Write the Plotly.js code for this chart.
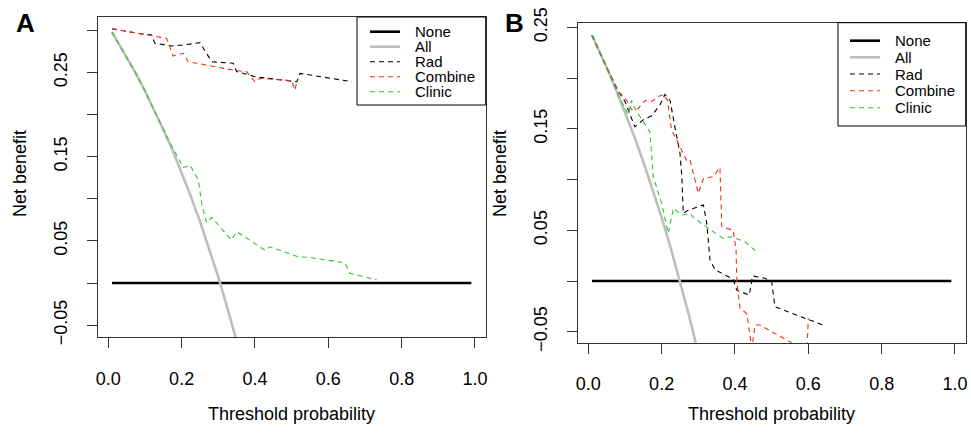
<!DOCTYPE html>
<html><head><meta charset="utf-8">
<script src="https://cdn.plot.ly/plotly-3.0.1.min.js"></script>
<style>html,body{margin:0;padding:0;background:#fff}#chart{width:971px;height:434px}</style>
</head><body><div id="chart"></div>
<script>
// ---------- data ----------
const seriesNames = ["None", "All", "Rad", "Combine", "Clinic"];
const seriesColors = ["#000000", "#bebebe", "#000000", "#f2301c", "#2ec42e"];

// Panel A
const aNoneX = [0.01, 0.99];
const aNoneY = [0, 0];
const aAllX = [0.01, 0.025, 0.05, 0.075, 0.10, 0.125, 0.15, 0.175, 0.20, 0.225, 0.25, 0.275, 0.30, 0.325, 0.35];
const aAllY = [0.298, 0.287, 0.268, 0.249, 0.228, 0.206, 0.182, 0.158, 0.131, 0.103, 0.073, 0.041, 0.007, -0.030, -0.069];
const aRadX = [0.01, 0.087, 0.118, 0.127, 0.173, 0.205, 0.25, 0.273, 0.282, 0.341, 0.350, 0.377, 0.40, 0.514, 0.523, 0.665];
const aRadY = [0.302, 0.296, 0.2945, 0.2847, 0.2815, 0.2827, 0.2854, 0.2688, 0.2628, 0.2609, 0.251, 0.248, 0.245, 0.239, 0.249, 0.239];
const aCombX = [0.01, 0.146, 0.159, 0.177, 0.205, 0.218, 0.350, 0.377, 0.40, 0.414, 0.50, 0.509, 0.514];
const aCombY = [0.302, 0.292, 0.2906, 0.2696, 0.2728, 0.2628, 0.2521, 0.251, 0.239, 0.2431, 0.2403, 0.229, 0.239];
const aClinX = [0.01, 0.025, 0.05, 0.075, 0.10, 0.125, 0.15, 0.164, 0.205, 0.223, 0.246, 0.255, 0.268, 0.282, 0.336, 0.350, 0.427, 0.441, 0.518, 0.545, 0.645, 0.659, 0.732];
const aClinY = [0.298, 0.287, 0.268, 0.249, 0.228, 0.206, 0.182, 0.170, 0.137, 0.140, 0.122, 0.093, 0.0716, 0.078, 0.051, 0.061, 0.039, 0.043, 0.031, 0.0305, 0.024, 0.0115, 0.0036];

// Panel B
const bNoneX = [0.01, 0.99];
const bNoneY = [0, 0];
const bAllX = [0.01, 0.025, 0.05, 0.075, 0.10, 0.125, 0.15, 0.175, 0.20, 0.225, 0.25, 0.275, 0.30];
const bAllY = [0.2424, 0.2308, 0.2105, 0.1892, 0.1667, 0.1429, 0.1176, 0.0909, 0.0625, 0.0323, 0.0, -0.0345, -0.0714];
const bRadX = [0.01, 0.05, 0.082, 0.10, 0.127, 0.15, 0.173, 0.196, 0.209, 0.223, 0.236, 0.25, 0.255, 0.259, 0.273, 0.314, 0.323, 0.332, 0.346, 0.395, 0.405, 0.439, 0.448, 0.482, 0.500, 0.509, 0.604, 0.641];
const bRadY = [0.2424, 0.2105, 0.187, 0.177, 0.152, 0.159, 0.163, 0.174, 0.184, 0.178, 0.152, 0.126, 0.103, 0.0667, 0.070, 0.075, 0.057, 0.0206, 0.011, 0.0017, -0.009, -0.0138, 0.005, 0.0027, -0.0007, -0.0253, -0.0385, -0.0434];
const bCombX = [0.01, 0.05, 0.082, 0.105, 0.118, 0.136, 0.155, 0.173, 0.191, 0.205, 0.216, 0.227, 0.245, 0.268, 0.277, 0.30, 0.314, 0.341, 0.359, 0.364, 0.395, 0.403, 0.405, 0.409, 0.414, 0.432, 0.446, 0.455, 0.468, 0.545, 0.596, 0.60];
const bCombY = [0.2424, 0.2105, 0.187, 0.178, 0.169, 0.170, 0.178, 0.177, 0.182, 0.184, 0.178, 0.149, 0.136, 0.119, 0.120, 0.0865, 0.101, 0.103, 0.112, 0.0536, 0.050, 0.0306, -0.0007, -0.0155, -0.027, -0.032, -0.066, -0.0434, -0.0434, -0.059, -0.070, -0.0368];
const bClinX = [0.01, 0.025, 0.05, 0.075, 0.082, 0.109, 0.118, 0.127, 0.15, 0.168, 0.177, 0.20, 0.218, 0.232, 0.255, 0.277, 0.286, 0.327, 0.368, 0.391, 0.427, 0.455];
const bClinY = [0.2424, 0.2308, 0.2105, 0.1892, 0.183, 0.164, 0.178, 0.170, 0.157, 0.147, 0.103, 0.0766, 0.047, 0.0717, 0.065, 0.0667, 0.063, 0.052, 0.042, 0.0437, 0.0388, 0.030];

const xTickVals = [0, 0.2, 0.4, 0.6, 0.8, 1.0];
const xTickText = ["0.0", "0.2", "0.4", "0.6", "0.8", "1.0"];
const aYTickVals = [-0.05, 0, 0.05, 0.10, 0.15, 0.20, 0.25, 0.30];
const aYTickText = ["\u22120.05", "", "0.05", "", "0.15", "", "0.25", ""];
const bYTickVals = [-0.05, 0, 0.05, 0.10, 0.15, 0.20, 0.25];
const bYTickText = ["\u22120.05", "", "0.05", "", "0.15", "", "0.25"];
const xTitle = "Threshold probability";
const yTitle = "Net benefit";
const panelLabels = ["A", "B"];

// ---------- drawing ----------
const W = 971, H = 434;
const FONT = "Liberation Sans, Arial, Helvetica, sans-serif";
const px = v => v / W;
const py = v => 1 - v / H;
const styles = [
  {width: 2.6, dash: "solid"},
  {width: 2.6, dash: "solid"},
  {width: 1.1, dash: "5px,4px"},
  {width: 1.1, dash: "5px,4px"},
  {width: 1.1, dash: "5px,4px"}
];

function mk(xs, ys, i, xa, ya) {
  return {x: xs, y: ys, type: "scatter", mode: "lines", name: seriesNames[i],
    xaxis: xa, yaxis: ya, showlegend: false, hoverinfo: "skip", cliponaxis: true,
    line: {color: seriesColors[i], width: styles[i].width, dash: styles[i].dash}};
}

const traces = [
  mk(aNoneX, aNoneY, 0, "x", "y"), mk(aAllX, aAllY, 1, "x", "y"),
  mk(aRadX, aRadY, 2, "x", "y"), mk(aCombX, aCombY, 3, "x", "y"), mk(aClinX, aClinY, 4, "x", "y"),
  mk(bNoneX, bNoneY, 0, "x2", "y2"), mk(bAllX, bAllY, 1, "x2", "y2"),
  mk(bRadX, bRadY, 2, "x2", "y2"), mk(bCombX, bCombY, 3, "x2", "y2"), mk(bClinX, bClinY, 4, "x2", "y2")
];

// plot boxes (pixels)
const boxA = {l: 97.6, r: 485.7, t: 17, b: 337};
const boxB = {l: 577.6, r: 965.7, t: 22.7, b: 342.7};

function xax(box, anchor) {
  return {domain: [px(box.l), px(box.r)], range: [-0.0292, 1.0292], anchor: anchor,
    tickvals: xTickVals, ticktext: xTickText, ticks: "outside", ticklen: 10, tickwidth: 1, tickcolor: "#333",
    showline: true, mirror: true, linecolor: "#333", linewidth: 1, showgrid: false, zeroline: false,
    ticklabelstandoff: 15, tickfont: {family: FONT, size: 18, color: "#000"}, fixedrange: true};
}
function yax(box, anchor, range, tv, tt) {
  return {domain: [py(box.b), py(box.t)], range: range, anchor: anchor,
    tickvals: tv, ticktext: tt, ticks: "outside", ticklen: 10, tickwidth: 1, tickcolor: "#333", tickangle: -90,
    showline: true, mirror: true, linecolor: "#333", linewidth: 1, showgrid: false, zeroline: false,
    ticklabelstandoff: 12, tickfont: {family: FONT, size: 18, color: "#000"}, fixedrange: true};
}

const shapes = [], annotations = [];

function addLegend(lg) {
  shapes.push({type: "rect", xref: "paper", yref: "paper", layer: "above",
    x0: px(lg.l), x1: px(lg.r), y0: py(lg.b), y1: py(lg.t),
    line: {color: "#000", width: 1}, fillcolor: "#fff"});
  seriesNames.forEach((n, i) => {
    const yy = lg.rows[i];
    shapes.push({type: "line", xref: "paper", yref: "paper", layer: "above",
      x0: px(lg.lx0), x1: px(lg.lx1), y0: py(yy), y1: py(yy),
      line: {color: seriesColors[i], width: styles[i].width, dash: styles[i].dash}});
    annotations.push({xref: "paper", yref: "paper", x: px(lg.tx), y: py(yy), text: n,
      showarrow: false, xanchor: "left", yanchor: "middle", borderpad: 0,
      font: {family: FONT, size: 15, color: "#000"}});
  });
}
addLegend({l: 357, r: 485.7, t: 17, b: 105, lx0: 370, lx1: 400, tx: 414, rows: [31.7, 46.7, 61.7, 76.7, 91.7]});
addLegend({l: 838, r: 965.7, t: 22.7, b: 126, lx0: 850, lx1: 880, tx: 894, rows: [40.7, 57.3, 74, 90.7, 107.7]});

function addTitles(box, ylabX) {
  annotations.push({xref: "paper", yref: "paper", x: px((box.l + box.r) / 2), y: py(414), text: xTitle,
    showarrow: false, xanchor: "center", yanchor: "middle", font: {family: FONT, size: 18, color: "#000"}});
  annotations.push({xref: "paper", yref: "paper", x: px(ylabX), y: py(174), text: yTitle, textangle: -90,
    showarrow: false, xanchor: "center", yanchor: "middle", font: {family: FONT, size: 18, color: "#000"}});
}
addTitles(boxA, 20);
addTitles(boxB, 500);
annotations.push({xref: "paper", yref: "paper", x: px(25), y: py(23), text: "<b>" + panelLabels[0] + "</b>",
  showarrow: false, xanchor: "center", yanchor: "middle", font: {family: FONT, size: 26, color: "#000"}});
annotations.push({xref: "paper", yref: "paper", x: px(514), y: py(23), text: "<b>" + panelLabels[1] + "</b>",
  showarrow: false, xanchor: "center", yanchor: "middle", font: {family: FONT, size: 26, color: "#000"}});

const layout = {
  width: W, height: H, margin: {l: 0, r: 0, t: 0, b: 0},
  paper_bgcolor: "#fff", plot_bgcolor: "#fff", showlegend: false,
  font: {family: FONT, color: "#000"},
  xaxis: xax(boxA, "y"),
  yaxis: yax(boxA, "x", [-0.0641, 0.3159], aYTickVals, aYTickText),
  xaxis2: xax(boxB, "y2"),
  yaxis2: yax(boxB, "x2", [-0.0608, 0.2547], bYTickVals, bYTickText),
  shapes: shapes, annotations: annotations
};

Plotly.newPlot("chart", traces, layout, {staticPlot: true, displayModeBar: false});
</script>
</body></html>
